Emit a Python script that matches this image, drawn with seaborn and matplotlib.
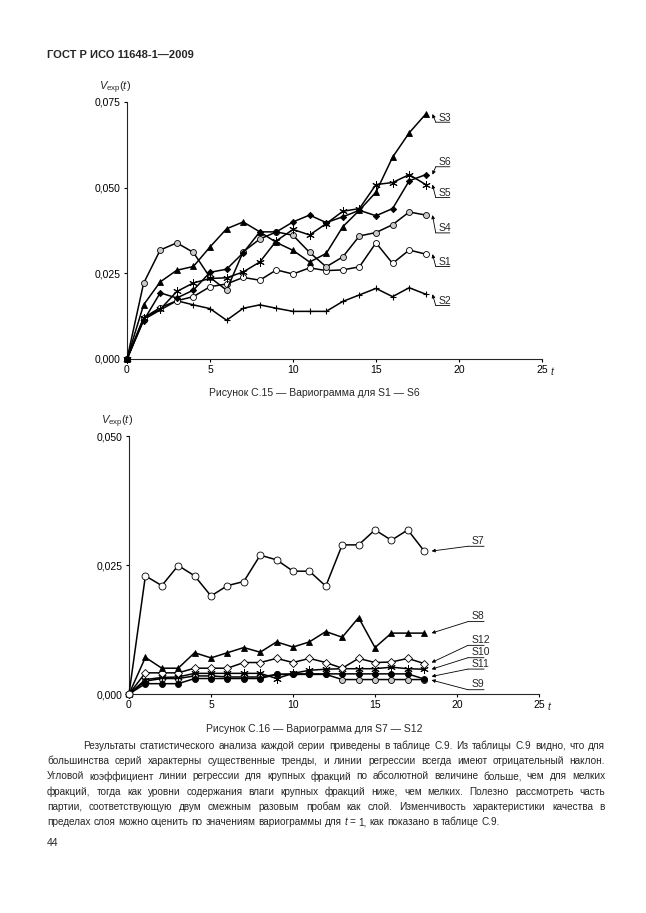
import matplotlib
matplotlib.use('Agg')
import matplotlib.pyplot as plt
import seaborn as sns
from matplotlib.ticker import FuncFormatter

# time lag t
T = list(range(19))

# Figure C.15: S1 - S6
S1 = [0, 0.0120, 0.0150, 0.0170, 0.0182, 0.0211, 0.0219, 0.0238, 0.0230, 0.0260,
      0.0248, 0.0266, 0.0258, 0.0260, 0.0269, 0.0339, 0.0279, 0.0318, 0.0306]
S2 = [0, 0.0115, 0.0143, 0.0170, 0.0158, 0.0147, 0.0113, 0.0148, 0.0158, 0.0148,
      0.0139, 0.0139, 0.0139, 0.0168, 0.0187, 0.0206, 0.0182, 0.0208, 0.0189]
S3 = [0, 0.0158, 0.0225, 0.0259, 0.0270, 0.0327, 0.0380, 0.0400, 0.0371, 0.0340,
      0.0317, 0.0283, 0.0308, 0.0386, 0.0434, 0.0487, 0.0589, 0.0660, 0.0715]
S4 = [0, 0.0221, 0.0318, 0.0339, 0.0311, 0.0238, 0.0201, 0.0313, 0.0350, 0.0371,
      0.0361, 0.0311, 0.0269, 0.0298, 0.0359, 0.0369, 0.0392, 0.0429, 0.0420]
S5 = [0, 0.0120, 0.0145, 0.0197, 0.0222, 0.0235, 0.0237, 0.0254, 0.0283, 0.0345,
      0.0378, 0.0362, 0.0395, 0.0431, 0.0439, 0.0509, 0.0515, 0.0538, 0.0509]
S6 = [0, 0.0112, 0.0193, 0.0178, 0.0201, 0.0253, 0.0262, 0.0310, 0.0371, 0.0371,
      0.0400, 0.0420, 0.0398, 0.0415, 0.0434, 0.0418, 0.0439, 0.0520, 0.0538]

# Figure C.16: S7 - S12
S7 = [0, 0.0229, 0.0210, 0.0249, 0.0229, 0.0190, 0.0210, 0.0218, 0.0269, 0.0260,
      0.0238, 0.0238, 0.0209, 0.0289, 0.0289, 0.0318, 0.0298, 0.0318, 0.0277]
S8 = [0, 0.0071, 0.0050, 0.0050, 0.0080, 0.0070, 0.0080, 0.0090, 0.0081, 0.0101,
      0.0091, 0.0101, 0.0121, 0.0110, 0.0148, 0.0090, 0.0118, 0.0118, 0.0118]
S9 = [0, 0.0020, 0.0020, 0.0020, 0.0030, 0.0030, 0.0030, 0.0030, 0.0030, 0.0038,
      0.0039, 0.0039, 0.0039, 0.0039, 0.0039, 0.0039, 0.0039, 0.0039, 0.0029]
S10 = [0, 0.0028, 0.0032, 0.0033, 0.0040, 0.0040, 0.0040, 0.0040, 0.0040, 0.0030,
       0.0040, 0.0046, 0.0048, 0.0049, 0.0049, 0.0049, 0.0052, 0.0049, 0.0048]
S11 = [0, 0.0025, 0.0030, 0.0030, 0.0035, 0.0035, 0.0033, 0.0033, 0.0033, 0.0038,
       0.0038, 0.0038, 0.0038, 0.0028, 0.0028, 0.0028, 0.0028, 0.0028, 0.0028]
S12 = [0, 0.0041, 0.0041, 0.0041, 0.0050, 0.0050, 0.0050, 0.0061, 0.0061, 0.0069,
       0.0061, 0.0069, 0.0061, 0.0050, 0.0069, 0.0061, 0.0062, 0.0069, 0.0059]

X_TICKS = [0, 5, 10, 15, 20, 25]
Y_TICKS_1 = [0, 0.025, 0.05, 0.075]
Y_TICKS_2 = [0, 0.025, 0.05]

HEADER = "ГОСТ Р ИСО 11648-1\u20142009"
CAPTION_1 = "Рисунок С.15 \u2014 Вариограмма для S1 \u2014 S6"
CAPTION_2 = "Рисунок С.16 \u2014 Вариограмма для S7 \u2014 S12"
PARAGRAPH = [
    "Результаты статистического анализа каждой серии приведены в таблице С.9. Из таблицы С.9 видно, что для",
    "большинства серий характерны существенные тренды, и линии регрессии всегда имеют отрицательный наклон.",
    "Угловой коэффициент линии регрессии для крупных фракций по абсолютной величине больше, чем для мелких",
    "фракций, тогда как уровни содержания влаги крупных фракций ниже, чем мелких. Полезно рассмотреть часть",
    "партии, соответствующую двум смежным разовым пробам как слой. Изменчивость характеристики качества в",
    "пределах слоя можно оценить по значениям вариограммы для t = 1, как показано в таблице С.9.",
]
PAGE_NO = "44"

GRAY = '#c9c9c9'

sns.set_style('ticks')
plt.rcParams['font.family'] = ['Liberation Sans', 'DejaVu Sans']
plt.rcParams['mathtext.fontset'] = 'custom'
plt.rcParams['mathtext.rm'] = 'Liberation Sans'
plt.rcParams['mathtext.it'] = 'Liberation Sans:italic'

W, H = 646, 913
fig = plt.figure(figsize=(W / 100, H / 100), dpi=100)
fig.patch.set_facecolor('white')


def page_axes(left, top, right, bottom):
    return fig.add_axes([left / W, 1 - bottom / H, (right - left) / W, (bottom - top) / H])


def draw_series(ax, values, marker, mfc, ms, mew=0.6):
    sns.lineplot(x=T, y=values, ax=ax, color='black', lw=1.1, marker=marker,
                 markersize=ms, markerfacecolor=mfc, markeredgecolor='black',
                 markeredgewidth=mew, clip_on=False, zorder=3)


def style_axis(ax, yticks):
    ax.set_xlim(0, 25)
    ax.set_ylim(0, yticks[-1])
    ax.set_xticks(X_TICKS)
    ax.set_yticks(yticks)
    ax.yaxis.set_major_formatter(FuncFormatter(lambda v, p: f'{v:.3f}'.replace('.', ',')))
    ax.set_xlabel('')
    ax.set_ylabel('')
    sns.despine(ax=ax)
    for s in ['left', 'bottom']:
        ax.spines[s].set_linewidth(0.8)
    ax.tick_params(direction='out', length=2.5, width=0.8, labelsize=7.5, pad=2, colors='black')
    ax.annotate('$V_{\\mathrm{exp}}(t)$', xy=(0, 1), xycoords='axes fraction',
                xytext=(-20, 10), textcoords='offset points', ha='left', va='center', fontsize=8)
    ax.annotate('t', xy=(1, 0), xycoords='axes fraction', xytext=(6.5, -9.5),
                textcoords='offset points', ha='left', va='center', fontsize=7.5, style='italic')


def label_series(ax, name, tx, ty, tip, ul, dy):
    ax.text(tx, ty, name, fontsize=7.5, ha='left', va='center')
    arrow_line = dict(arrowstyle='-', lw=0.6, color='black', shrinkA=0, shrinkB=0)
    ax.annotate('', xy=(ul[1], ty - dy), xytext=(ul[0], ty - dy), arrowprops=arrow_line,
                annotation_clip=False)
    ax.annotate('', xy=tip, xytext=(ul[0], ty - dy),
                arrowprops=dict(arrowstyle='-|>', lw=0.6, color='black', mutation_scale=5,
                                shrinkA=0, shrinkB=0), annotation_clip=False)


# ---- chart 1
ax1 = page_axes(127, 102, 542, 359)
draw_series(ax1, S2, '+', 'black', 5, 0.8)
draw_series(ax1, S1, 'o', 'white', 4.3)
draw_series(ax1, S4, 'o', GRAY, 4.3)
draw_series(ax1, S5, (6, 2, 0), 'black', 6, 0.7)
draw_series(ax1, S6, 'D', 'black', 3.2)
draw_series(ax1, S3, '^', 'black', 4.3)
style_axis(ax1, Y_TICKS_1)

labels_1 = [('S3', S3, 0.0704), ('S6', S6, 0.0574), ('S5', S5, 0.0484),
            ('S4', S4, 0.0381), ('S1', S1, 0.0283), ('S2', S2, 0.0169)]
for name, vals, ty in labels_1:
    label_series(ax1, name, 18.75, ty, (18.4, vals[-1]), (18.6, 19.45), 0.0013)

# ---- chart 2
ax2 = page_axes(129, 436, 539, 694)
draw_series(ax2, S11, 'o', GRAY, 4.3)
draw_series(ax2, S9, 'o', 'black', 4.3)
draw_series(ax2, S10, (6, 2, 0), 'black', 6, 0.7)
draw_series(ax2, S12, 'D', 'white', 4)
draw_series(ax2, S8, '^', 'black', 4.5)
draw_series(ax2, S7, 'o', 'white', 5)
style_axis(ax2, Y_TICKS_2)

labels_2 = [('S7', 0.0297, 0.0277), ('S8', 0.0151, 0.0118), ('S12', 0.0105, 0.0061),
            ('S10', 0.0081, 0.0048), ('S11', 0.0059, 0.0034), ('S9', 0.0019, 0.0027)]
for name, ty, tip_y in labels_2:
    label_series(ax2, name, 20.88, ty, (18.45, tip_y), (20.67, 21.65), 0.00107)

# ---- page text
fig.text(47 / W, 1 - 55 / H, HEADER, fontsize=8, fontweight='bold', ha='left', va='center')
fig.text(314 / W, 1 - 393 / H, CAPTION_1, fontsize=7.5, ha='center', va='center')
fig.text(314 / W, 1 - 729 / H, CAPTION_2, fontsize=7.5, ha='center', va='center')
fig.text(47 / W, 1 - 843 / H, PAGE_NO, fontsize=7.5, ha='left', va='center')

renderer = fig.canvas.get_renderer()
LEFT, RIGHT, INDENT = 47, 605, 83
for i, line in enumerate(PARAGRAPH):
    y = 746 + 15.2 * i
    words = line.split(' ')
    items = [fig.text(0, 1 - y / H, w, fontsize=7.2, ha='left', va='center',
                      style='italic' if w == 't' else 'normal') for w in words]
    widths = [it.get_window_extent(renderer).width for it in items]
    left = INDENT if i == 0 else LEFT
    last = i == len(PARAGRAPH) - 1
    gap = 2.8 if last else (RIGHT - left - sum(widths)) / (len(words) - 1)
    x = left
    for it, w in zip(items, widths):
        it.set_x(x / W)
        x += w + gap

fig.savefig('out.png', dpi=100, facecolor='white')
